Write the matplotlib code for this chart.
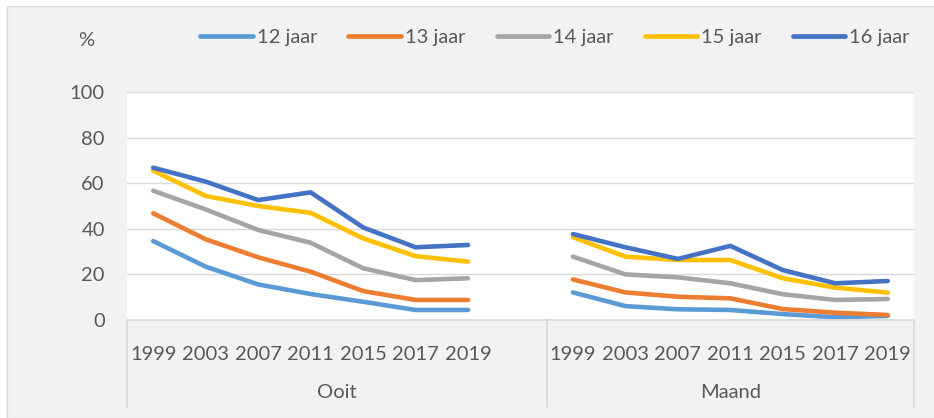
import numpy as np
import matplotlib
matplotlib.use("Agg")
import matplotlib.pyplot as plt
from matplotlib.patches import Rectangle
from matplotlib.lines import Line2D

plt.rcParams['font.family'] = ['Lato', 'DejaVu Sans']

# data
years = ['1999', '2003', '2007', '2011', '2015', '2017', '2019']
groups = ['Ooit', 'Maand']
series = ['12 jaar', '13 jaar', '14 jaar', '15 jaar', '16 jaar']

ooit_12 = [34.6, 23.4, 15.6, 11.4, 8.0, 4.4, 4.4]
ooit_13 = [46.8, 35.4, 27.5, 21.2, 12.7, 8.8, 8.8]
ooit_14 = [56.7, 48.5, 39.5, 33.9, 22.7, 17.5, 18.3]
ooit_15 = [65.5, 54.4, 50.0, 47.0, 35.8, 28.0, 25.6]
ooit_16 = [66.8, 60.7, 52.6, 56.0, 40.6, 31.9, 32.9]

maand_12 = [12.1, 6.1, 4.7, 4.4, 2.6, 1.2, 1.8]
maand_13 = [17.8, 12.1, 10.2, 9.5, 4.8, 3.2, 2.2]
maand_14 = [27.8, 20.0, 18.7, 16.1, 11.3, 8.8, 9.2]
maand_15 = [36.3, 27.8, 26.3, 26.3, 18.3, 14.2, 12.0]
maand_16 = [37.7, 31.9, 26.8, 32.5, 21.9, 16.1, 17.1]

ooit = [ooit_12, ooit_13, ooit_14, ooit_15, ooit_16]
maand = [maand_12, maand_13, maand_14, maand_15, maand_16]
colors = ['#5B9BD5', '#ED7D31', '#A5A5A5', '#FFC000', '#4472C4']

txt = '#595959'
grid = '#D9D9D9'
fs = 14.5
W, H = 934, 418

fig = plt.figure(figsize=(W / 100, H / 100), dpi=100, facecolor='white')
# grijze achtergrond van het diagram
fig.add_artist(Rectangle((7 / W, 0), 1, 1 - 6 / H, transform=fig.transFigure,
                         facecolor='#F2F2F2', edgecolor=grid, lw=1, zorder=-5))

ax = fig.add_axes([127 / W, 1 - 320 / H, (914 - 127) / W, (320 - 92) / H])
ax.set_facecolor('white')

n = len(years)
x1 = np.arange(n)
x2 = np.arange(n) + n + 1  # lege categorie tussen de groepen

for i in range(len(series)):
    ax.plot(x1, ooit[i], color=colors[i], lw=3.3, solid_capstyle='round',
            solid_joinstyle='round', label=series[i])
    ax.plot(x2, maand[i], color=colors[i], lw=3.3, solid_capstyle='round',
            solid_joinstyle='round')

ax.set_xlim(-0.5, 2 * n + 0.5)
ax.set_ylim(0, 100)
ax.set_yticks(np.arange(0, 101, 20))
ax.grid(axis='y', color=grid, lw=1)
ax.set_axisbelow(True)
for s in ax.spines.values():
    s.set_visible(False)

ax.set_xticks(np.concatenate([x1, x2]))
ax.set_xticklabels(years + years)
ax.tick_params(axis='x', length=0, pad=19, labelsize=fs, colors=txt)
ax.tick_params(axis='y', length=0, pad=16, labelsize=fs, colors=txt)

# categorie-as met vakken
tr = ax.get_xaxis_transform()
depth = -(407 - 320) / (320 - 92)
ax.add_artist(Line2D([-0.5, 2 * n + 0.5], [0, 0], transform=tr, color=grid, lw=1.2, clip_on=False))
for xv in [-0.5, n + 0.5, 2 * n + 0.5]:
    ax.add_artist(Line2D([xv, xv], [0, depth], transform=tr, color=grid, lw=1.2, clip_on=False))

gy = -(392 - 320) / (320 - 92)
ax.text((-0.5 + n + 0.5) / 2, gy, groups[0], transform=tr, ha='center', va='center',
        fontsize=fs, color=txt)
ax.text((n + 0.5 + 2 * n + 0.5) / 2, gy, groups[1], transform=tr, ha='center', va='center',
        fontsize=fs, color=txt)

fig.text(86 / W, 1 - 40 / H, '%', ha='center', va='center', fontsize=fs, color=txt)

leg = fig.legend(loc='center', bbox_to_anchor=(555 / W, 1 - 37 / H), ncol=5, frameon=False,
                 fontsize=fs, handlelength=2.6, handletextpad=0.2, columnspacing=1.55,
                 labelcolor=txt)
for h in leg.get_lines():
    h.set_linewidth(3.4)

fig.savefig('out.png', dpi=100, facecolor=fig.get_facecolor())
